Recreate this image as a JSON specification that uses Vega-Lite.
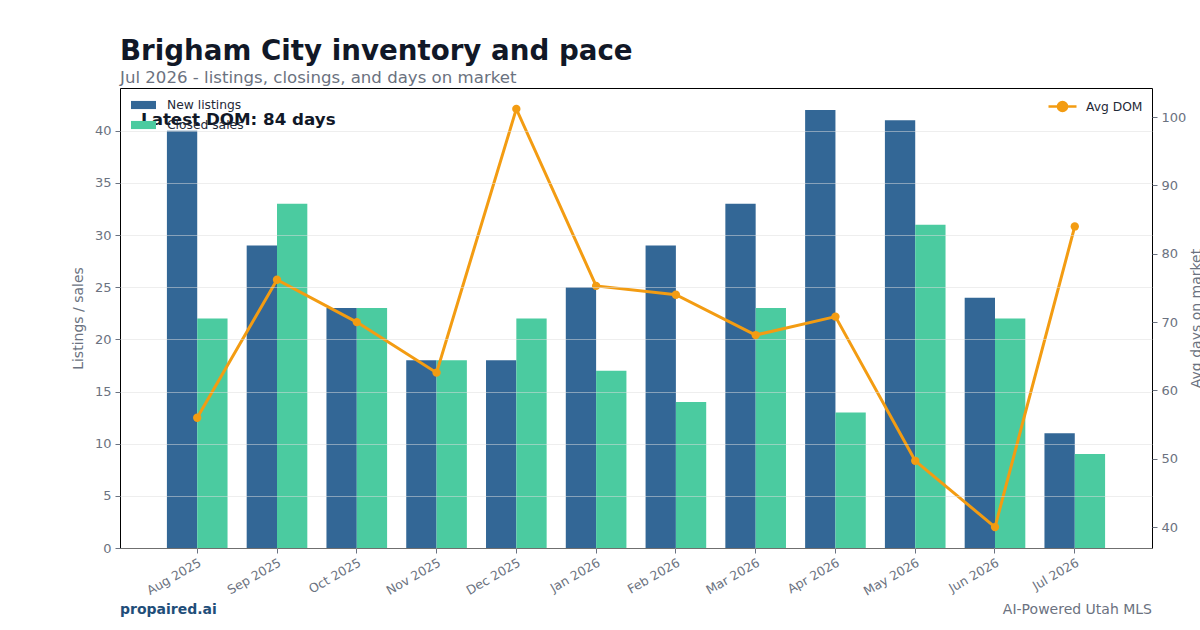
{
  "$schema": "https://vega.github.io/schema/vega-lite/v6.json",
  "width": 1032,
  "height": 460,
  "autosize": {"type": "none"},
  "padding": {"left": 120, "top": 88, "right": 48, "bottom": 82},
  "background": "#ffffff",
  "title": {
    "text": "Brigham City inventory and pace",
    "subtitle": "Jul 2026 - listings, closings, and days on market",
    "anchor": "start",
    "frame": "group",
    "offset": 1,
    "font": "DejaVu Sans",
    "fontSize": 27.7,
    "fontWeight": "bold",
    "color": "#111827",
    "subtitleFont": "DejaVu Sans",
    "subtitleFontSize": 16.6,
    "subtitleColor": "#6b7280",
    "subtitlePadding": 5
  },
  "config": {
    "font": "DejaVu Sans",
    "view": {"stroke": "#000000", "strokeWidth": 1},
    "axis": {
      "domain": false,
      "labelColor": "#6b7280",
      "labelFont": "DejaVu Sans",
      "labelFontSize": 13,
      "tickColor": "#6b7280",
      "tickSize": 5,
      "labelPadding": 4,
      "titleColor": "#6b7280",
      "titleFont": "DejaVu Sans",
      "titleFontSize": 14,
      "titleFontWeight": "normal"
    },
    "legend": {
      "labelFont": "DejaVu Sans",
      "labelFontSize": 12.3,
      "labelColor": "#1f2937",
      "padding": 0,
      "title": null
    }
  },
  "data": {
    "values": [
      {"month": "Aug 2025", "New listings": 40, "Closed sales": 22, "Avg DOM": 56.0},
      {"month": "Sep 2025", "New listings": 29, "Closed sales": 33, "Avg DOM": 76.2},
      {"month": "Oct 2025", "New listings": 23, "Closed sales": 23, "Avg DOM": 70.0},
      {"month": "Nov 2025", "New listings": 18, "Closed sales": 18, "Avg DOM": 62.6},
      {"month": "Dec 2025", "New listings": 18, "Closed sales": 22, "Avg DOM": 101.2},
      {"month": "Jan 2026", "New listings": 25, "Closed sales": 17, "Avg DOM": 75.3},
      {"month": "Feb 2026", "New listings": 29, "Closed sales": 14, "Avg DOM": 74.0},
      {"month": "Mar 2026", "New listings": 33, "Closed sales": 23, "Avg DOM": 68.1},
      {"month": "Apr 2026", "New listings": 42, "Closed sales": 13, "Avg DOM": 70.8},
      {"month": "May 2026", "New listings": 41, "Closed sales": 31, "Avg DOM": 49.7},
      {"month": "Jun 2026", "New listings": 24, "Closed sales": 22, "Avg DOM": 40.0},
      {"month": "Jul 2026", "New listings": 11, "Closed sales": 9, "Avg DOM": 84.0}
    ]
  },
  "encoding": {
    "x": {
      "field": "month",
      "type": "nominal",
      "sort": null,
      "scale": {"paddingInner": 0.24, "paddingOuter": 0.588},
      "axis": {
        "title": null,
        "labelAngle": -30,
        "labelAlign": "right",
        "labelBaseline": "top",
        "labelFontSize": 12.5,
        "labelPadding": 3
      }
    }
  },
  "layer": [
    {
      "transform": [
        {"fold": ["New listings", "Closed sales"], "as": ["series", "value"]}
      ],
      "mark": {"type": "bar"},
      "encoding": {
        "xOffset": {
          "field": "series",
          "type": "nominal",
          "sort": ["New listings", "Closed sales"],
          "scale": {"paddingInner": 0, "paddingOuter": 0}
        },
        "y": {
          "field": "value",
          "type": "quantitative",
          "scale": {"domain": [0, 44.1], "nice": false, "zero": true},
          "axis": {
            "title": "Listings / sales",
            "titlePadding": 9,
            "values": [0, 5, 10, 15, 20, 25, 30, 35, 40],
            "grid": true,
            "gridColor": "#dddddd",
            "gridOpacity": 0.5,
            "zindex": 1
          }
        },
        "color": {
          "field": "series",
          "type": "nominal",
          "sort": ["New listings", "Closed sales"],
          "scale": {"domain": ["New listings", "Closed sales"], "range": ["#336796", "#4bcba0"]},
          "legend": {
            "orient": "none",
            "legendX": 17,
            "legendY": 10.5,
            "symbolType": "M-2,-0.65H2V0.65H-2Z",
            "symbolSize": 156,
            "symbolStrokeWidth": 0,
            "labelOffset": 17,
            "rowPadding": 7
          }
        }
      }
    },
    {
      "mark": {
        "type": "line",
        "strokeWidth": 3,
        "point": {"filled": true, "size": 70}
      },
      "encoding": {
        "y": {
          "field": "Avg DOM",
          "type": "quantitative",
          "scale": {"domain": [36.94, 104.26], "nice": false, "zero": false},
          "axis": {
            "orient": "right",
            "title": "Avg days on market",
            "titleAngle": 270,
            "titlePadding": 18,
            "values": [40, 50, 60, 70, 80, 90, 100],
            "grid": false
          }
        },
        "color": {
          "datum": "Avg DOM",
          "type": "nominal",
          "scale": {"domain": ["Avg DOM"], "range": ["#f39c12"]},
          "legend": {
            "orient": "none",
            "legendX": 934,
            "legendY": 10,
            "symbolType": "M-2,0H2M-0.65,0A0.65,0.65 0 1,1 0.65,0A0.65,0.65 0 1,1 -0.65,0",
            "symbolSize": 196,
            "labelOffset": 15,
            "encode": {
              "symbols": {
                "update": {
                  "fill": {"value": "#f39c12"},
                  "stroke": {"value": "#f39c12"},
                  "strokeWidth": {"value": 2.5},
                  "opacity": {"value": 1}
                }
              }
            }
          }
        }
      }
    },
    {
      "data": {"values": [{"note": "Latest DOM: 84 days"}]},
      "mark": {
        "type": "text",
        "align": "left",
        "baseline": "middle",
        "font": "DejaVu Sans",
        "fontSize": 16.7,
        "fontWeight": "bold",
        "color": "#111827"
      },
      "encoding": {
        "x": {"value": 21},
        "y": {"value": 32},
        "text": {"field": "note"}
      }
    },
    {
      "data": {"values": [{"note": "propaired.ai"}]},
      "mark": {
        "type": "text",
        "align": "left",
        "baseline": "middle",
        "font": "DejaVu Sans",
        "fontSize": 14,
        "fontWeight": "bold",
        "color": "#1f4e79"
      },
      "encoding": {
        "x": {"value": 0},
        "y": {"value": 522},
        "text": {"field": "note"}
      }
    },
    {
      "data": {"values": [{"note": "AI-Powered Utah MLS"}]},
      "mark": {
        "type": "text",
        "align": "right",
        "baseline": "middle",
        "font": "DejaVu Sans",
        "fontSize": 14,
        "color": "#6b7280"
      },
      "encoding": {
        "x": {"value": 1032},
        "y": {"value": 522},
        "text": {"field": "note"}
      }
    }
  ],
  "resolve": {"scale": {"y": "independent", "color": "independent"}}
}
